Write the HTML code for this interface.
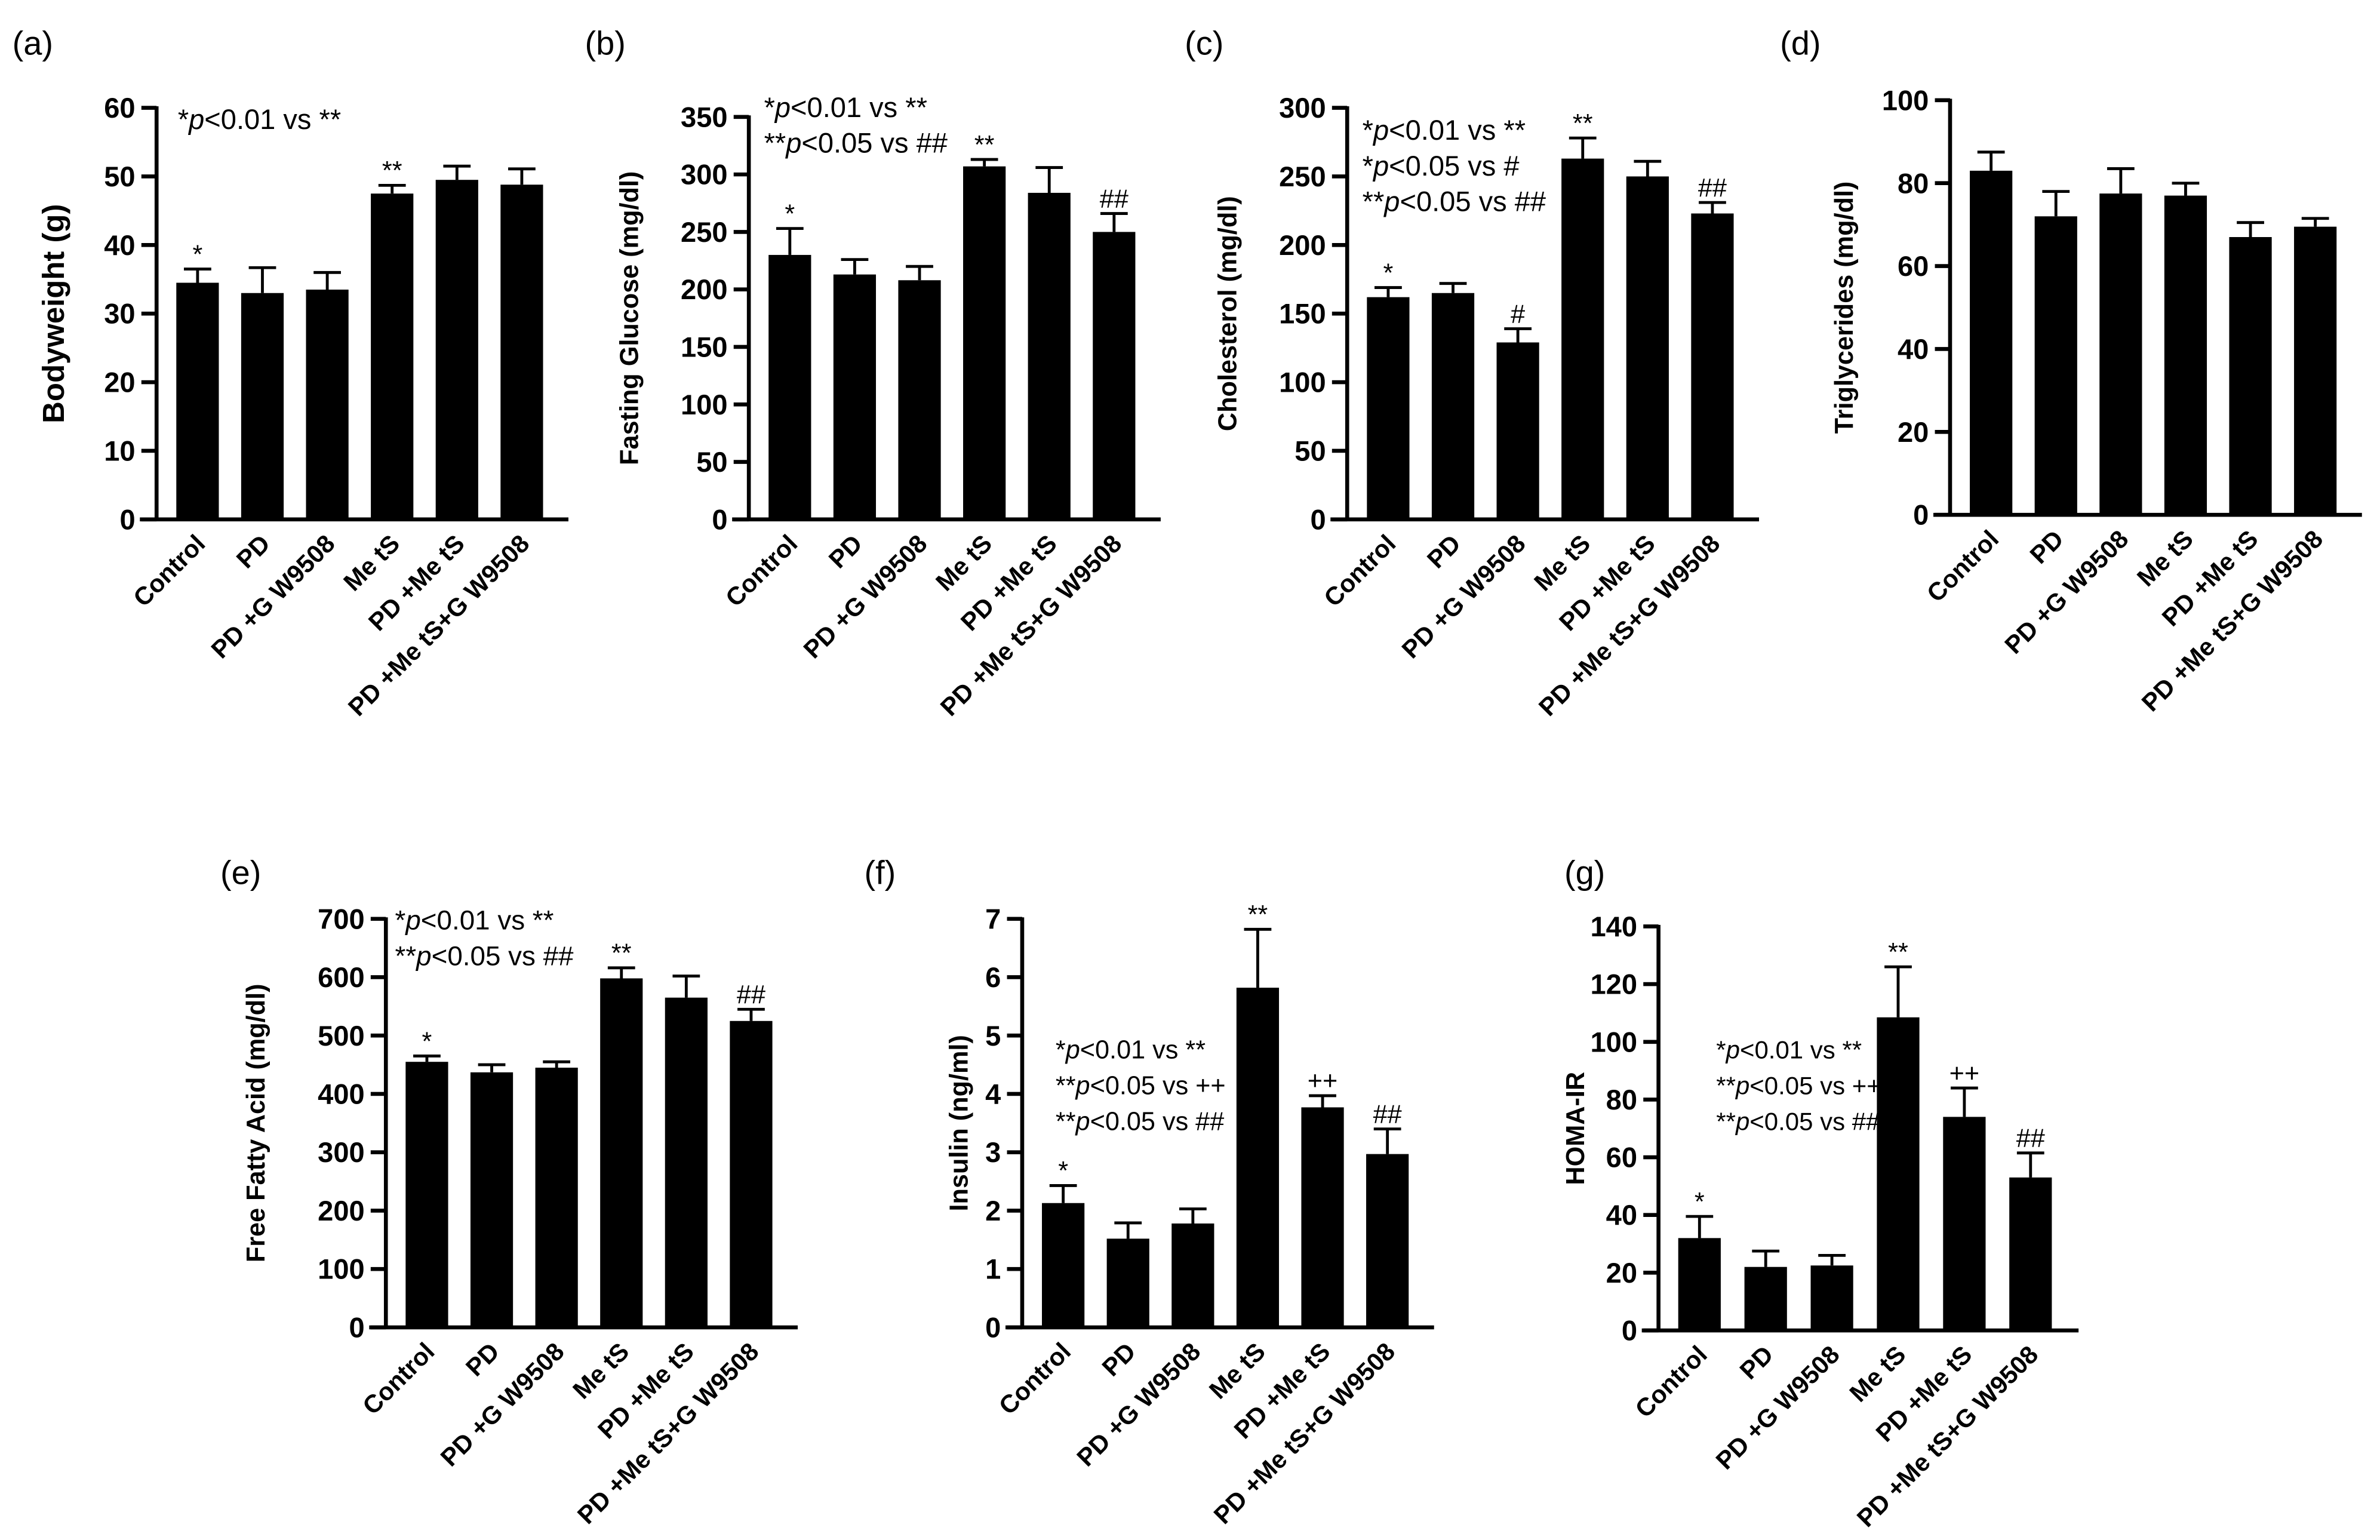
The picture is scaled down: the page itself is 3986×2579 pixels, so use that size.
<!DOCTYPE html>
<html><head><meta charset="utf-8"><style>
html,body{margin:0;padding:0;background:#fff}
svg{display:block}
text{font-family:"Liberation Sans",sans-serif;fill:#000}
</style></head><body>
<svg id="fig" width="3986" height="2579" viewBox="0 0 1567 1014" xmlns="http://www.w3.org/2000/svg"></svg>
<script>
const categories = ["Control","PD","PD +G W9508","Me tS","PD +Me tS","PD +Me tS+G W9508"];
const bwValues = [34.5,33,33.5,47.5,49.5,48.8];
const bwErrors = [2,3.7,2.5,1.2,2,2.3];
const bwTicks = [0,10,20,30,40,50,60];
const fgValues = [230,213,208,307,284,250];
const fgErrors = [23,13,12,6,22,16];
const fgTicks = [0,50,100,150,200,250,300,350];
const chValues = [162,165,129,263,250,223];
const chErrors = [7,7,10,15,11,8];
const chTicks = [0,50,100,150,200,250,300];
const tgValues = [83,72,77.5,77,67,69.5];
const tgErrors = [4.5,6,6,3,3.5,2];
const tgTicks = [0,20,40,60,80,100];
const ffaValues = [455,437,445,598,565,525];
const ffaErrors = [10,13,10,18,37,20];
const ffaTicks = [0,100,200,300,400,500,600,700];
const insValues = [2.13,1.52,1.78,5.82,3.77,2.97];
const insErrors = [0.3,0.27,0.25,1.0,0.2,0.43];
const insTicks = [0,1,2,3,4,5,6,7];
const homaValues = [32,22,22.5,108.5,74,53];
const homaErrors = [7.5,5.5,3.5,17.5,10,8.5];
const homaTicks = [0,20,40,60,80,100,120,140];

const NS="http://www.w3.org/2000/svg";
const fig=document.getElementById('fig');
function mk(tag,attrs,parent,txt){const e=document.createElementNS(NS,tag);for(const k in attrs)e.setAttribute(k,attrs[k]);if(txt!==undefined)e.textContent=txt;(parent||fig).appendChild(e);return e;}

const panels=[
 {id:'a',lab:'(a)',lx:8,ly:36,ax:103,y0:342,yTop:71,max:60,ticks:bwTicks,vals:bwValues,errs:bwErrors,title:'Bodyweight (g)',tx:42,tsize:20,marks:['*','','','**','',''],notes:[['*','p','<0.01 vs **']],nx:117,ny:85,ns:18.5,step:42.7},
 {id:'b',lab:'(b)',lx:385,ly:36,ax:493,y0:342,yTop:77,max:350,ticks:fgTicks,vals:fgValues,errs:fgErrors,title:'Fasting Glucose (mg/dl)',tx:420,tsize:17,marks:['*','','','**','','##'],notes:[['*','p','<0.01 vs **'],['**','p','<0.05 vs ##']],nx:503,ny:77,ns:18.5,step:42.7},
 {id:'c',lab:'(c)',lx:780,ly:36,ax:887,y0:342,yTop:71,max:300,ticks:chTicks,vals:chValues,errs:chErrors,title:'Cholesterol (mg/dl)',tx:814,tsize:17,marks:['*','','#','**','','##'],notes:[['*','p','<0.01 vs **'],['*','p','<0.05 vs #'],['**','p','<0.05 vs ##']],nx:897,ny:92,ns:18.5,step:42.7},
 {id:'d',lab:'(d)',lx:1172,ly:36,ax:1284,y0:339,yTop:66,max:100,ticks:tgTicks,vals:tgValues,errs:tgErrors,title:'Triglycerides (mg/dl)',tx:1220,tsize:17,marks:['','','','','',''],notes:[],nx:0,ny:0,ns:18.5,step:42.7},
 {id:'e',lab:'(e)',lx:145,ly:582,ax:254,y0:874,yTop:605,max:700,ticks:ffaTicks,vals:ffaValues,errs:ffaErrors,title:'Free Fatty Acid (mg/dl)',tx:174,tsize:17,marks:['*','','','**','','##'],notes:[['*','p','<0.01 vs **'],['**','p','<0.05 vs ##']],nx:260,ny:612,ns:18,step:42.7},
 {id:'f',lab:'(f)',lx:569,ly:582,ax:673,y0:874,yTop:605,max:7,ticks:insTicks,vals:insValues,errs:insErrors,title:'Insulin (ng/ml)',tx:637,tsize:17,marks:['*','','','**','++','##'],notes:[['*','p','<0.01 vs **'],['**','p','<0.05 vs ++'],['**','p','<0.05 vs ##']],nx:695,ny:697,ns:17,step:42.7},
 {id:'g',lab:'(g)',lx:1030,ly:582,ax:1092,y0:876,yTop:610,max:140,ticks:homaTicks,vals:homaValues,errs:homaErrors,title:'HOMA-IR',tx:1043,tsize:17,marks:['*','','','**','++','##'],notes:[['*','p','<0.01 vs **'],['**','p','<0.05 vs ++'],['**','p','<0.05 vs ##']],nx:1130,ny:697,ns:16.5,step:43.6}
];

panels.forEach(p=>{
 const g=mk('g',{});
 
 
 const y=v=>p.y0-(v/p.max)*(p.y0-p.yTop);
 const step=p.step, bw=28, first=p.ax+13;
 const pl=mk('text',{x:p.lx,y:p.ly,'font-size':22},g,p.lab);
 
 
 const ya=mk('line',{x1:p.ax,y1:p.yTop-1,x2:p.ax,y2:p.y0+1,stroke:'#000','stroke-width':2.6},g);
 
 
 const xa=mk('line',{x1:p.ax-11,y1:p.y0,x2:p.ax+6*step+15,y2:p.y0,stroke:'#000','stroke-width':2.6},g);
 
 
 p.ticks.forEach(t=>{
  mk('line',{x1:p.ax-10,y1:y(t),x2:p.ax,y2:y(t),stroke:'#000','stroke-width':2.6},g);
  const tl=mk('text',{x:p.ax-14,y:y(t)+6.5,'font-size':18.5,'font-weight':'bold','text-anchor':'end'},g,String(t));
  
  
 });
 const tt=mk('text',{x:0,y:0,'font-size':p.tsize,'font-weight':'bold','text-anchor':'middle',transform:`translate(${p.tx},${(p.y0+p.yTop)/2}) rotate(-90)`},g,p.title);
 
 
 p.vals.forEach((v,i)=>{
  const x=first+i*step, cx=x+bw/2;
  const r=mk('rect',{x:x,y:y(v),width:bw,height:p.y0-y(v),fill:'#000'},g);
  
  
  const et=y(v+p.errs[i]);
  const e=mk('path',{d:`M${cx},${y(v)}V${et}M${cx-9},${et}H${cx+9}`,stroke:'#000','stroke-width':1.9,fill:'none'},g);
  
  
  if(p.marks[i]){const m=mk('text',{x:cx,y:et-4,'font-size':17,'text-anchor':'middle'},g,p.marks[i]);
   
   }
  const lt=mk('text',{x:0,y:0,'font-size':16.5,'font-weight':'bold','text-anchor':'end',transform:`translate(${cx+6},${p.y0+17}) rotate(-45)`},g,categories[i]);
  
  
 });
 p.notes.forEach((n,k)=>{
  const t=mk('text',{x:p.nx,y:p.ny+k*23.5,'font-size':p.ns},g);
  
  
  mk('tspan',{},t,n[0]);mk('tspan',{'font-style':'italic'},t,n[1]);mk('tspan',{},t,n[2]);
 });
});
</script>
</body></html>
